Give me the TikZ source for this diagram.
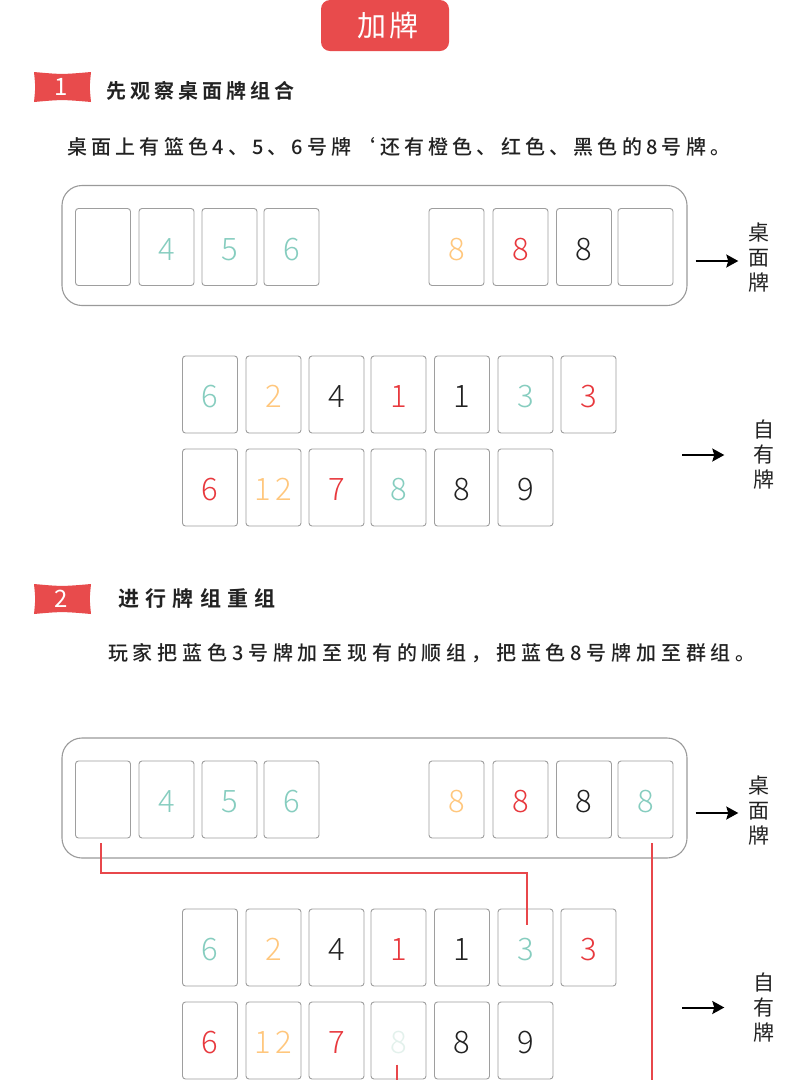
\documentclass[tikz,border=0pt]{standalone}
\usepackage{fontspec}
\setmainfont{Noto Sans CJK SC}
\newfontfamily\cjk{Noto Sans CJK SC}
\newfontfamily\cjktitle[LetterSpace=8]{Noto Sans CJK SC}
\newfontfamily\cjkspa[LetterSpace=21]{Noto Sans CJK SC Medium}
\newfontfamily\cjkspb[LetterSpace=24]{Noto Sans CJK SC Medium}
\newfontfamily\cjkhda[LetterSpace=20]{Noto Sans CJK SC Bold}
\newfontfamily\cjkhdb[LetterSpace=30]{Noto Sans CJK SC Bold}
\newfontfamily\numfont{Noto Sans CJK SC Light}
\usetikzlibrary{arrows.meta}
\definecolor{cardgray}{HTML}{9E9E9E}
\definecolor{boxgray}{HTML}{9A9A9A}
\definecolor{tred}{HTML}{E84B4C}
\definecolor{nteal}{HTML}{86CDBF}
\definecolor{norange}{HTML}{FFC77D}
\definecolor{nred}{HTML}{E8383D}
\definecolor{nblack}{HTML}{222222}
\definecolor{nfade}{HTML}{E3F1EC}
\definecolor{lred}{HTML}{E8474B}
\definecolor{txt}{HTML}{222222}
\newcommand\card[5]{\node[card] (#1) at (#2,#3) {\textcolor{#4}{#5}};}
\tikzset{
  pill/.style={fill=tred, rounded corners=9pt, minimum width=128pt, minimum height=51pt, text=white, inner sep=0pt, font=\cjktitle\fontsize{29}{29}\selectfont},
  badgenum/.style={text=white, inner sep=0pt, font=\cjk\fontsize{24}{24}\selectfont},
  heading/.style={anchor=west, inner sep=0pt, text=txt},
  body/.style={anchor=west, inner sep=0pt, text=txt},
  tablebox/.style={draw=boxgray, line width=1.1pt, rounded corners=20pt, minimum width=625pt, minimum height=120pt, inner sep=0pt},
  card/.style={draw=cardgray, line width=0.9pt, rounded corners=3pt, minimum width=55pt, minimum height=77pt, inner sep=0pt, text height=26pt, text depth=0pt, font=\numfont\fontsize{31}{31}\selectfont},
  vlabel/.style={align=center, inner sep=0pt, text=txt, font=\cjk\fontsize{21}{25}\selectfont},
  arr/.style={-{Stealth[length=12pt,width=13pt,inset=2pt]}, line width=2pt, black},
  redline/.style={draw=lred, line width=2pt}
}
\begin{document}
\begin{tikzpicture}[x=1pt,y=-1pt]
\useasboundingbox (0,0) rectangle (790,1080);
\clip (0,0) rectangle (790,1080);
\fill[white] (0,0) rectangle (790,1080);
\coordinate (pagebottom) at (395,1084);

% title
\node[pill] (title) at (385,25.5) {\hspace{6pt}加牌};

% section 1 heading
\fill[tred] (34,72) .. controls (62,74.5) .. (91,72) .. controls (89.5,87) .. (91,102) .. controls (62,99.5) .. (34,102) .. controls (35.5,87) .. (34,72);
\node[badgenum] (n1) at (61,87) {1};
\node[heading, font=\cjkhda\fontsize{20}{20}\selectfont] (head1) at (106,91) {先观察桌面牌组合};
\node[body, font=\cjkspa\fontsize{20}{20}\selectfont] (text1) at (67,147) {桌面上有篮色4、5、6号牌‘还有橙色、红色、黑色的8号牌。};

% table 1
\node[tablebox] (box1) at (374.5,245.5) {};
\card{b1a}{103}{247}{nblack}{}
\card{b1b}{166.5}{247}{nteal}{4}
\card{b1c}{229.5}{247}{nteal}{5}
\card{b1d}{291.5}{247}{nteal}{6}
\card{b1e}{456.5}{247}{norange}{8}
\card{b1f}{520.5}{247}{nred}{8}
\card{b1g}{584}{247}{nblack}{8}
\card{b1h}{645.5}{247}{nblack}{}
\node[vlabel] (lab1) at (759,258) {桌\\面\\牌};
\draw[arr] ([xshift=8pt,yshift=-3pt]box1.east |- lab1) -- ([xshift=-10pt,yshift=-3pt]lab1.west);

% hand 1
\card{h1a}{210}{394.5}{nteal}{6}
\card{h1b}{273.5}{394.5}{norange}{2}
\card{h1c}{336.5}{394.5}{nblack}{4}
\card{h1d}{398.5}{394.5}{nred}{1}
\card{h1e}{462}{394.5}{nblack}{1}
\card{h1f}{525.5}{394.5}{nteal}{3}
\card{h1g}{588.5}{394.5}{nred}{3}
\card{h1h}{210}{487.5}{nred}{6}
\card{h1i}{273.5}{487.5}{norange}{1\hspace{4pt}2}
\card{h1j}{336.5}{487.5}{nred}{7}
\card{h1k}{398.5}{487.5}{nteal}{8}
\card{h1l}{462}{487.5}{nblack}{8}
\card{h1m}{525.5}{487.5}{nblack}{9}
\node[vlabel] (lab2) at (764,455) {自\\有\\牌};
\draw[arr] ([xshift=-71pt]lab2.west) -- ([xshift=-29pt]lab2.west);

% section 2 heading
\fill[tred] (34,584) .. controls (62,586.5) .. (91,584) .. controls (89.5,599) .. (91,614) .. controls (62,611.5) .. (34,614) .. controls (35.5,599) .. (34,584);
\node[badgenum] (n2) at (61,599) {2};
\node[heading, font=\cjkhdb\fontsize{21}{21}\selectfont] (head2) at (118,598) {进行牌组重组};
\node[body, font=\cjkspb\fontsize{20}{20}\selectfont] (text2) at (108,653) {玩家把蓝色3号牌加至现有的顺组，把蓝色8号牌加至群组。};

% table 2
\node[tablebox] (box2) at (374.5,798) {};
\card{b2a}{103}{799.5}{nblack}{}
\card{b2b}{166.5}{799.5}{nteal}{4}
\card{b2c}{229.5}{799.5}{nteal}{5}
\card{b2d}{291.5}{799.5}{nteal}{6}
\card{b2e}{456.5}{799.5}{norange}{8}
\card{b2f}{520.5}{799.5}{nred}{8}
\card{b2g}{584}{799.5}{nblack}{8}
\card{b2h}{645.5}{799.5}{nteal}{8}
\node[vlabel] (lab3) at (759,811) {桌\\面\\牌};
\draw[arr] ([xshift=8pt,yshift=-2pt]box2.east |- lab3) -- ([xshift=-10pt,yshift=-2pt]lab3.west);

% hand 2
\card{h2a}{210}{947.5}{nteal}{6}
\card{h2b}{273.5}{947.5}{norange}{2}
\card{h2c}{336.5}{947.5}{nblack}{4}
\card{h2d}{398.5}{947.5}{nred}{1}
\card{h2e}{462}{947.5}{nblack}{1}
\card{h2f}{525.5}{947.5}{nteal}{3}
\card{h2g}{588.5}{947.5}{nred}{3}
\card{h2h}{210}{1040.5}{nred}{6}
\card{h2i}{273.5}{1040.5}{norange}{1\hspace{4pt}2}
\card{h2j}{336.5}{1040.5}{nred}{7}
\card{h2k}{398.5}{1040.5}{nfade}{8}
\card{h2l}{462}{1040.5}{nblack}{8}
\card{h2m}{525.5}{1040.5}{nblack}{9}
\node[vlabel] (lab4) at (764,1007.5) {自\\有\\牌};
\draw[arr] ([xshift=-71pt]lab4.west) -- ([xshift=-29pt]lab4.west);

% red connectors
\draw[redline] ([xshift=-2pt,yshift=-5pt]b2a.south) -- ++(0,30) -| ([xshift=1.5pt,yshift=-16pt]h2f.north);
\draw[redline] ([xshift=6.5pt,yshift=-5pt]b2h.south) coordinate (r2s) -- (r2s |- pagebottom);
\draw[redline] ([xshift=-1.5pt,yshift=-63pt]h2k.north) coordinate (r3s) -- (r3s |- pagebottom);
\end{tikzpicture}
\end{document}
